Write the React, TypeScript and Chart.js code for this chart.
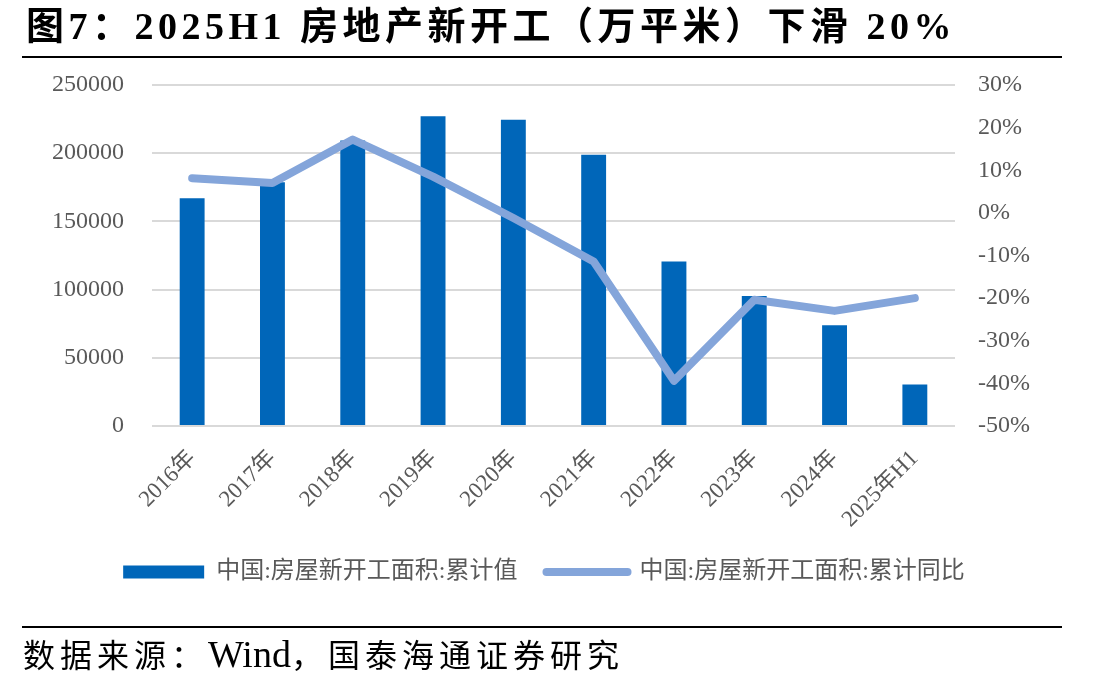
import React, { useEffect, useRef } from "react";
import { Chart, registerables } from "chart.js";

Chart.register(...registerables);

const categories = ["2016年", "2017年", "2018年", "2019年", "2020年", "2021年", "2022年", "2023年", "2024年", "2025年H1"];
const areaValues = [166928, 178654, 209342, 227154, 224433, 198895, 120587, 95376, 73893, 30364];
const yoyValues = [8.1, 7.0, 17.2, 8.5, -1.2, -11.4, -39.4, -20.4, -23.0, -20.0];
const leftTicks = [0, 50000, 100000, 150000, 200000, 250000];
const rightTicks = [-50, -40, -30, -20, -10, 0, 10, 20, 30];
const seriesNames = ["中国:房屋新开工面积:累计值", "中国:房屋新开工面积:累计同比"];

const BAR_COLOR = "#0066B9";
const LINE_COLOR = "#84A5DA";
const TICK_COLOR = "#595959";
const SERIF = "'Liberation Serif', 'Times New Roman', 'Noto Sans CJK SC', serif";

export default function App() {
  const ref = useRef<HTMLCanvasElement | null>(null);

  useEffect(() => {
    if (!ref.current) return;
    const chart = new Chart(ref.current, {
      type: "bar",
      data: {
        labels: categories,
        datasets: [
          {
            type: "bar",
            label: seriesNames[0],
            data: areaValues,
            backgroundColor: BAR_COLOR,
            yAxisID: "y",
            order: 1,
            barPercentage: 0.31,
            categoryPercentage: 1,
          },
          {
            type: "line",
            label: seriesNames[1],
            data: yoyValues,
            borderColor: LINE_COLOR,
            backgroundColor: LINE_COLOR,
            borderWidth: 8,
            borderCapStyle: "round",
            borderJoinStyle: "round",
            pointRadius: 0,
            tension: 0,
            yAxisID: "y1",
            order: 0,
          },
        ],
      },
      options: {
        animation: false,
        responsive: false,
        layout: { padding: { left: 40, right: 60, top: 85, bottom: 92 } },
        plugins: {
          tooltip: { enabled: false },
          legend: {
            position: "bottom",
            labels: {
              usePointStyle: true,
              pointStyleWidth: 81,
              boxHeight: 13,
              padding: 29,
              color: TICK_COLOR,
              font: { family: SERIF, size: 24 },
              sort: (a: any, b: any) => a.datasetIndex - b.datasetIndex,
              generateLabels: (chart: any) => {
                const items = Chart.defaults.plugins.legend.labels.generateLabels(chart);
                return items.map((it: any) => {
                  if (it.datasetIndex === 0) {
                    return { ...it, pointStyle: "rect", fillStyle: BAR_COLOR, strokeStyle: BAR_COLOR, lineWidth: 0 };
                  }
                  return { ...it, pointStyle: "line", strokeStyle: LINE_COLOR, fillStyle: LINE_COLOR, lineWidth: 8, lineCap: "round" };
                });
              },
            },
          },
        },
        scales: {
          x: {
            grid: { display: false, drawTicks: false },
            border: { display: false },
            ticks: {
              color: TICK_COLOR,
              font: { family: SERIF, size: 23 },
              minRotation: 45,
              maxRotation: 45,
              padding: 19,
              autoSkip: false,
            },
            afterFit: (scale: any) => {
              scale.height = 105;
            },
          },
          y: {
            position: "left",
            min: 0,
            max: 250000,
            grid: { color: "#D9D9D9", lineWidth: 2, drawTicks: false },
            border: { display: false },
            ticks: {
              color: TICK_COLOR,
              font: { family: SERIF, size: 24 },
              padding: 28,
              callback: (v: any) => String(v),
            },
            afterBuildTicks: (scale: any) => {
              scale.ticks = leftTicks.map((v) => ({ value: v }));
            },
            afterFit: (scale: any) => {
              scale.width = 112;
            },
          },
          y1: {
            position: "right",
            min: -50,
            max: 30,
            grid: { display: false, drawTicks: false },
            border: { display: false },
            ticks: {
              color: TICK_COLOR,
              font: { family: SERIF, size: 24 },
              padding: 23,
              callback: (v: any) => `${v}%`,
            },
            afterBuildTicks: (scale: any) => {
              scale.ticks = rightTicks.map((v) => ({ value: v }));
            },
            afterFit: (scale: any) => {
              scale.width = 93;
            },
          },
        },
      },
    });
    return () => chart.destroy();
  }, []);

  return (
    <div style={{ position: "fixed", left: 0, top: 0, width: 1108, height: 686, background: "#fff", overflow: "hidden" }}>
      <canvas ref={ref} width={1108} height={686} style={{ position: "absolute", left: 0, top: 0, width: 1108, height: 686 }} />
      <div
        style={{
          position: "absolute",
          left: 26,
          top: 6,
          fontFamily: SERIF,
          fontWeight: "bold",
          fontSize: 38,
          lineHeight: "40px",
          letterSpacing: "4.5px",
          color: "#000",
          whiteSpace: "nowrap",
        }}
      >
        图7：2025H1 房地产新开工（万平米）下滑 20%
      </div>
      <div style={{ position: "absolute", left: 22, top: 56, width: 1040, height: 2, background: "#000" }} />
      <div style={{ position: "absolute", left: 22, top: 626, width: 1040, height: 2, background: "#000" }} />
      <div
        style={{
          position: "absolute",
          left: 23,
          top: 635,
          fontFamily: SERIF,
          fontSize: 32,
          lineHeight: "38px",
          letterSpacing: "5px",
          color: "#000",
          whiteSpace: "nowrap",
        }}
      >
        数据来源：<span style={{ fontSize: 38, letterSpacing: 0 }}>Wind</span>，国泰海通证券研究
      </div>
    </div>
  );
}
